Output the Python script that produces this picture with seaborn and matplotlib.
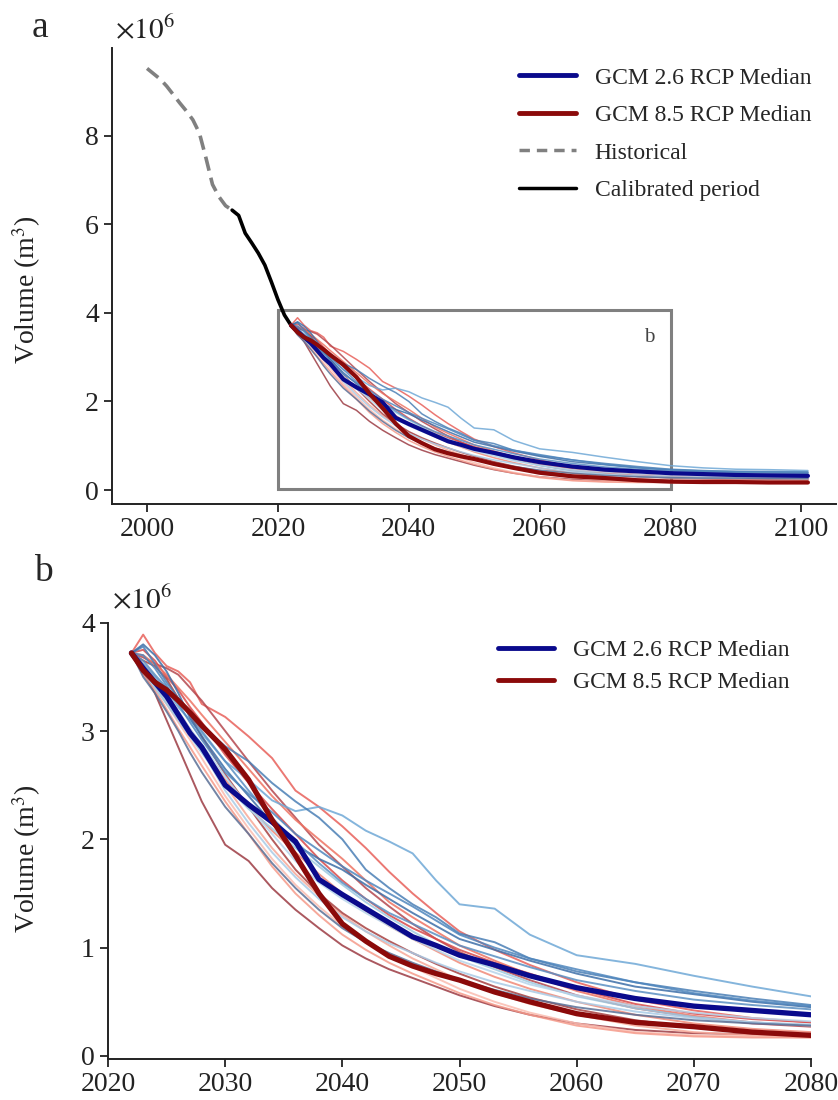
import numpy as np
import pandas as pd
import matplotlib
matplotlib.use('agg')
import matplotlib.pyplot as plt
from matplotlib.patches import Rectangle
from matplotlib.lines import Line2D
import seaborn as sns

# volumes in 10^6 m3
hist_years = [2000, 2001, 2002, 2003, 2004, 2005, 2006, 2007, 2008, 2009, 2010, 2011, 2012, 2013]
hist_vol = [9.52, 9.40, 9.28, 9.12, 8.93, 8.74, 8.56, 8.36, 8.06, 7.50, 6.90, 6.62, 6.42, 6.32]

calib_years = [2013, 2014, 2015, 2016, 2017, 2018, 2019, 2020, 2021, 2022]
calib_vol = [6.32, 6.20, 5.80, 5.58, 5.35, 5.08, 4.70, 4.30, 3.95, 3.72]

proj_years = [2022, 2023, 2024, 2025, 2026, 2027, 2028, 2030, 2032, 2034, 2036, 2038, 2040,
              2042, 2044, 2046, 2048, 2050, 2053, 2056, 2060, 2065, 2070, 2075, 2080,
              2085, 2090, 2095, 2101]

blue_median = [3.72, 3.58, 3.45, 3.32, 3.15, 2.98, 2.85, 2.50, 2.32, 2.16, 1.98, 1.63, 1.49,
               1.36, 1.23, 1.10, 1.02, 0.93, 0.84, 0.74, 0.63, 0.53, 0.46, 0.42, 0.38,
               0.36, 0.34, 0.33, 0.32]
red_median = [3.72, 3.56, 3.45, 3.38, 3.28, 3.17, 3.05, 2.83, 2.55, 2.18, 1.85, 1.50, 1.22,
              1.06, 0.92, 0.83, 0.76, 0.70, 0.59, 0.50, 0.39, 0.31, 0.27, 0.22, 0.19,
              0.18, 0.18, 0.17, 0.17]

# RCP 2.6 ensemble members
b1 = [3.72, 3.62, 3.50, 3.38, 3.22, 3.10, 2.98, 2.72, 2.55, 2.36, 2.26, 2.30, 2.22, 2.08, 1.98, 1.87, 1.62, 1.40, 1.36, 1.12, 0.93, 0.85, 0.74, 0.64, 0.55, 0.50, 0.47, 0.46, 0.44]
b2 = [3.72, 3.78, 3.62, 3.45, 3.30, 3.18, 3.05, 2.86, 2.72, 2.52, 2.35, 2.20, 2.00, 1.72, 1.55, 1.40, 1.28, 1.13, 1.05, 0.90, 0.78, 0.68, 0.60, 0.53, 0.47, 0.44, 0.42, 0.41, 0.40]
b3 = [3.72, 3.80, 3.70, 3.55, 3.35, 3.12, 2.95, 2.65, 2.40, 2.15, 1.95, 1.82, 1.72, 1.58, 1.45, 1.32, 1.20, 1.08, 0.98, 0.88, 0.76, 0.64, 0.57, 0.50, 0.45, 0.42, 0.40, 0.39, 0.38]
b4 = [3.72, 3.55, 3.40, 3.25, 3.10, 2.95, 2.80, 2.50, 2.28, 2.10, 1.92, 1.75, 1.58, 1.42, 1.28, 1.15, 1.03, 0.92, 0.80, 0.68, 0.55, 0.44, 0.36, 0.31, 0.28, 0.27, 0.26, 0.26, 0.25]
b5 = [3.72, 3.60, 3.48, 3.33, 3.18, 3.02, 2.88, 2.58, 2.30, 2.05, 1.80, 1.60, 1.45, 1.32, 1.20, 1.08, 0.98, 0.88, 0.77, 0.66, 0.56, 0.46, 0.40, 0.35, 0.32, 0.31, 0.30, 0.30, 0.29]
b6 = [3.72, 3.65, 3.52, 3.40, 3.28, 3.15, 3.00, 2.72, 2.45, 2.20, 1.98, 1.78, 1.60, 1.45, 1.32, 1.22, 1.12, 1.02, 0.92, 0.82, 0.70, 0.60, 0.52, 0.47, 0.43, 0.41, 0.40, 0.39, 0.38]
b7 = [3.72, 3.58, 3.42, 3.28, 3.12, 2.98, 2.82, 2.45, 2.15, 1.88, 1.65, 1.45, 1.28, 1.15, 1.04, 0.95, 0.86, 0.78, 0.68, 0.60, 0.50, 0.41, 0.35, 0.31, 0.29, 0.28, 0.28, 0.27, 0.27]
b8 = [3.72, 3.50, 3.35, 3.18, 3.00, 2.80, 2.62, 2.30, 2.05, 1.78, 1.55, 1.35, 1.18, 1.05, 0.95, 0.86, 0.78, 0.70, 0.61, 0.53, 0.45, 0.38, 0.33, 0.30, 0.28, 0.27, 0.27, 0.26, 0.26]
b9 = [3.72, 3.70, 3.58, 3.42, 3.25, 3.08, 2.92, 2.62, 2.42, 2.25, 2.05, 1.90, 1.75, 1.62, 1.50, 1.38, 1.25, 1.12, 1.00, 0.90, 0.80, 0.68, 0.58, 0.51, 0.46, 0.43, 0.42, 0.42, 0.41]

# RCP 8.5 ensemble members
r1 = [3.72, 3.89, 3.72, 3.60, 3.55, 3.45, 3.25, 3.13, 2.95, 2.75, 2.45, 2.30, 2.12, 1.92, 1.70, 1.50, 1.32, 1.15, 0.98, 0.84, 0.68, 0.52, 0.42, 0.35, 0.31, 0.29, 0.28, 0.28, 0.27]
r2 = [3.72, 3.68, 3.62, 3.58, 3.52, 3.40, 3.28, 3.00, 2.72, 2.45, 2.20, 1.95, 1.75, 1.55, 1.38, 1.22, 1.08, 0.96, 0.82, 0.70, 0.56, 0.44, 0.36, 0.30, 0.27, 0.25, 0.24, 0.24, 0.23]
r3 = [3.72, 3.60, 3.45, 3.30, 3.15, 3.00, 2.85, 2.55, 2.30, 2.08, 1.88, 1.68, 1.50, 1.34, 1.20, 1.08, 0.97, 0.86, 0.73, 0.62, 0.50, 0.38, 0.30, 0.25, 0.22, 0.21, 0.20, 0.20, 0.20]
r4 = [3.72, 3.55, 3.35, 3.10, 2.85, 2.60, 2.35, 1.95, 1.80, 1.55, 1.35, 1.18, 1.02, 0.90, 0.80, 0.72, 0.64, 0.56, 0.46, 0.38, 0.30, 0.24, 0.21, 0.20, 0.19, 0.19, 0.18, 0.18, 0.18]
r5 = [3.72, 3.62, 3.50, 3.35, 3.18, 3.02, 2.85, 2.50, 2.20, 1.92, 1.68, 1.48, 1.30, 1.15, 1.02, 0.90, 0.80, 0.70, 0.58, 0.48, 0.38, 0.28, 0.22, 0.19, 0.18, 0.17, 0.17, 0.17, 0.16]
r6 = [3.72, 3.75, 3.65, 3.50, 3.38, 3.22, 3.08, 2.78, 2.52, 2.28, 2.05, 1.82, 1.62, 1.45, 1.30, 1.18, 1.08, 0.98, 0.86, 0.76, 0.62, 0.48, 0.39, 0.34, 0.31, 0.30, 0.29, 0.29, 0.28]
r7 = [3.72, 3.58, 3.42, 3.25, 3.08, 2.92, 2.75, 2.40, 2.10, 1.82, 1.58, 1.38, 1.20, 1.05, 0.92, 0.82, 0.72, 0.62, 0.50, 0.40, 0.30, 0.22, 0.19, 0.18, 0.17, 0.17, 0.17, 0.16, 0.16]
r8 = [3.72, 3.65, 3.60, 3.48, 3.30, 3.15, 2.95, 2.60, 2.30, 2.00, 1.72, 1.50, 1.32, 1.18, 1.06, 0.95, 0.85, 0.76, 0.64, 0.54, 0.43, 0.33, 0.26, 0.22, 0.20, 0.19, 0.19, 0.18, 0.18]
r9 = [3.72, 3.70, 3.62, 3.52, 3.40, 3.28, 3.15, 2.90, 2.65, 2.40, 2.18, 2.00, 1.82, 1.62, 1.42, 1.28, 1.15, 1.02, 0.88, 0.75, 0.60, 0.46, 0.37, 0.31, 0.28, 0.26, 0.25, 0.25, 0.24]
r10 = [3.72, 3.52, 3.38, 3.20, 3.02, 2.85, 2.68, 2.35, 2.05, 1.75, 1.50, 1.30, 1.12, 0.98, 0.86, 0.76, 0.67, 0.58, 0.47, 0.38, 0.28, 0.21, 0.18, 0.17, 0.17, 0.16, 0.16, 0.16, 0.16]

blue_runs = [b1, b2, b3, b4, b5, b6, b7, b8, b9]
red_runs = [r1, r2, r3, r4, r5, r6, r7, r8, r9, r10]

blue_cols = ['#6fa8d6', '#4a7fb5', '#3d6fa8', '#9ecae1', '#b7d4ea', '#5b8fc2', '#a9cbe6', '#5a6f95', '#4f86bd']
red_cols = ['#e8605a', '#b5484f', '#f08a78', '#9c3b43', '#f7a898', '#d94a4a', '#fbbcb0', '#a84040', '#ee7363', '#f59a8a']

sns.set_style("ticks")
plt.rcParams['font.family'] = ['Liberation Serif', 'DejaVu Serif']
plt.rcParams['mathtext.fontset'] = 'stix'

fig = plt.figure(figsize=(8.38, 11.0), dpi=100)
ax1 = fig.add_axes([0.1337, 0.5418, 0.8640, 0.4145])
ax2 = fig.add_axes([0.1289, 0.0373, 0.8389, 0.3966])


def draw_runs(ax, lw_run, lw_med):
    for vals, c in zip(red_runs, red_cols):
        sns.lineplot(x=proj_years, y=vals, ax=ax, color=c, lw=lw_run, alpha=0.85)
    for vals, c in zip(blue_runs, blue_cols):
        sns.lineplot(x=proj_years, y=vals, ax=ax, color=c, lw=lw_run, alpha=0.85)
    sns.lineplot(x=proj_years, y=blue_median, ax=ax, color='#0a0a8c', lw=lw_med)
    sns.lineplot(x=proj_years, y=red_median, ax=ax, color='#8b0a0a', lw=lw_med)


def style_axis(ax):
    sns.despine(ax=ax)
    for s in ['left', 'bottom']:
        ax.spines[s].set_linewidth(1.4)
        ax.spines[s].set_color('#222222')
    ax.tick_params(direction='out', length=6, width=1.3, colors='#222222', labelsize=20)
    ax.set_ylabel('Volume (m$^3$)', fontsize=20, color='#222222')
    ax.set_xlabel('')


# panel a
sns.lineplot(x=hist_years, y=hist_vol, ax=ax1, color='#808080', lw=2.6, linestyle=(0, (4, 2)))
sns.lineplot(x=calib_years, y=calib_vol, ax=ax1, color='black', lw=2.6)
draw_runs(ax1, 1.1, 3.0)
ax1.add_patch(Rectangle((2020, 0.02), 60, 4.04, fill=False, ec='#808080', lw=2.2))
ax1.text(2077.5, 3.45, 'b', fontsize=15, color='#444444', ha='right', va='center')
ax1.set_xlim(1994.65, 2105.3)
ax1.set_ylim(-0.316, 9.98)
ax1.set_xticks(range(2000, 2101, 20))
ax1.set_yticks([0, 2, 4, 6, 8])
style_axis(ax1)
ax1.yaxis.set_label_coords(-0.096, 0.47)

handles_a = [Line2D([], [], color='#0a0a8c', lw=3.5),
             Line2D([], [], color='#8b0a0a', lw=3.5),
             Line2D([], [], color='#808080', lw=2.5, linestyle=(0, (3, 2))),
             Line2D([], [], color='black', lw=2.5)]
labels_a = ['GCM 2.6 RCP Median', 'GCM 8.5 RCP Median', 'Historical', 'Calibrated period']
ax1.legend(handles_a, labels_a, frameon=False, fontsize=17, loc='upper right',
           bbox_to_anchor=(0.995, 1.005), handlelength=2.4, labelspacing=0.68, handletextpad=0.8)

# panel b
draw_runs(ax2, 1.4, 3.8)
ax2.set_xlim(2020, 2080)
ax2.set_ylim(-0.028, 4.0)
ax2.set_xticks(range(2020, 2081, 10))
ax2.set_yticks([0, 1, 2, 3, 4])
style_axis(ax2)
ax2.yaxis.set_label_coords(-0.093, 0.46)

handles_b = handles_a[:2]
ax2.legend(handles_b, labels_a[:2], frameon=False, fontsize=17, loc='upper right',
           bbox_to_anchor=(1.0, 1.01), handlelength=2.4, labelspacing=0.45, handletextpad=0.8)

fig.text(115 / 838, 1 - 30 / 1100, r'$\times10^6$', fontsize=21, va='center', ha='left', color='#222222')
fig.text(112 / 838, 1 - 600 / 1100, r'$\times10^6$', fontsize=21, va='center', ha='left', color='#222222')
fig.text(32 / 838, 1 - 28 / 1100, 'a', fontsize=27, va='center', ha='left')
fig.text(34 / 838, 1 - 572 / 1100, 'b', fontsize=27, va='center', ha='left')

fig.savefig('out.png', dpi=100)
